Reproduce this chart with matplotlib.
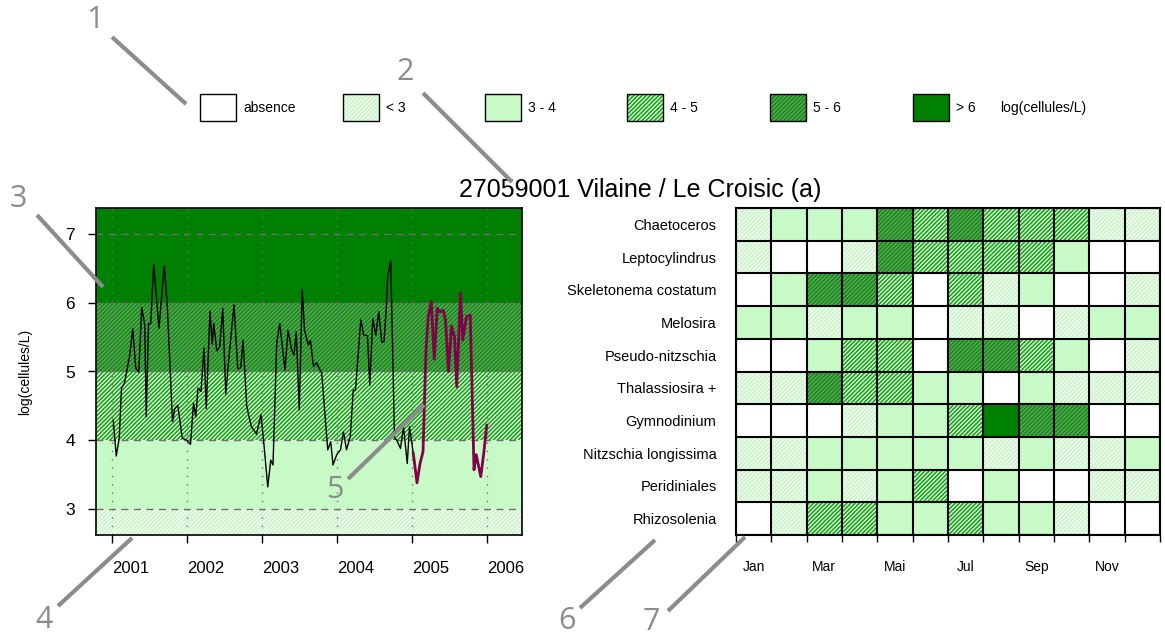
import matplotlib
matplotlib.use("Agg")
import matplotlib.pyplot as plt

plt.rcParams["font.family"] = ["Liberation Sans", "DejaVu Sans"]
plt.rcParams["hatch.linewidth"] = 1.0

# ---- time series (decimal years, log(cellules/L)) ----
years_a = [2001.02, 2001.06, 2001.10, 2001.13, 2001.17, 2001.24, 2001.28, 2001.32,
           2001.36, 2001.40, 2001.44, 2001.46, 2001.49, 2001.52, 2001.56, 2001.63,
           2001.70, 2001.74, 2001.81, 2001.84, 2001.88, 2001.94, 2002.00, 2002.05,
           2002.09, 2002.12, 2002.15, 2002.19, 2002.23, 2002.26, 2002.31, 2002.34,
           2002.36, 2002.40, 2002.44, 2002.48, 2002.52, 2002.57, 2002.63, 2002.68,
           2002.72, 2002.75, 2002.80, 2002.86, 2002.93, 2002.99, 2003.03, 2003.08,
           2003.12, 2003.15, 2003.20, 2003.24, 2003.31, 2003.35, 2003.40, 2003.43,
           2003.46, 2003.50, 2003.54, 2003.57, 2003.62, 2003.65, 2003.69, 2003.73,
           2003.80, 2003.88, 2003.92, 2003.95, 2004.00, 2004.05, 2004.09, 2004.13,
           2004.18, 2004.22, 2004.25, 2004.32, 2004.36, 2004.41, 2004.44, 2004.48,
           2004.52, 2004.56, 2004.60, 2004.63, 2004.66, 2004.68, 2004.72, 2004.77,
           2004.80, 2004.85, 2004.89, 2004.94, 2004.97, 2005.02]
values_a = [4.29, 3.77, 4.03, 4.76, 4.83, 5.24, 5.62, 5.05,
            4.99, 5.93, 5.68, 4.34, 5.69, 5.70, 6.56, 5.63,
            6.54, 5.97, 4.27, 4.46, 4.51, 4.03, 4.00, 3.94,
            4.54, 4.34, 4.76, 4.71, 5.34, 4.46, 5.88, 5.40,
            5.70, 5.30, 5.36, 5.92, 4.67, 5.29, 5.97, 5.04,
            5.05, 5.46, 4.49, 4.20, 4.09, 4.37, 3.93, 3.32,
            3.71, 3.64, 5.42, 5.70, 5.02, 5.60, 5.31, 5.24,
            5.58, 4.44, 6.19, 5.60, 5.39, 5.45, 5.07, 5.13,
            4.97, 3.86, 3.98, 3.64, 3.79, 3.86, 4.12, 3.86,
            4.05, 4.73, 4.73, 5.75, 5.53, 5.52, 4.80, 5.77,
            5.53, 5.87, 5.43, 5.43, 5.92, 6.38, 6.61, 4.03,
            4.00, 3.88, 4.20, 3.66, 4.20, 3.81]

# last year highlighted
years_b = [2005.02, 2005.07, 2005.11, 2005.15, 2005.19, 2005.22, 2005.26, 2005.30,
           2005.34, 2005.37, 2005.42, 2005.45, 2005.49, 2005.53, 2005.57, 2005.60,
           2005.65, 2005.68, 2005.73, 2005.78, 2005.83, 2005.86, 2005.92, 2005.96,
           2006.00]
values_b = [3.81, 3.38, 3.66, 3.83, 5.31, 5.80, 6.02, 5.18,
            5.92, 5.87, 5.89, 5.75, 5.00, 5.66, 5.51, 4.78,
            6.14, 5.46, 5.80, 5.82, 3.57, 3.79, 3.47, 3.81,
            4.22]

year_ticks = [2001, 2002, 2003, 2004, 2005, 2006]

# ---- monthly classes per taxon ----
# 0 absence, 1 <3, 2 3-4, 3 4-5, 4 5-6, 5 >6
taxa = ["Chaetoceros", "Leptocylindrus", "Skeletonema costatum", "Melosira",
        "Pseudo-nitzschia", "Thalassiosira +", "Gymnodinium",
        "Nitzschia longissima", "Peridiniales", "Rhizosolenia"]
classes = [
    [1, 2, 2, 2, 4, 3, 4, 3, 3, 3, 1, 1],
    [1, 0, 0, 1, 4, 3, 3, 3, 3, 2, 0, 0],
    [0, 2, 4, 4, 3, 0, 3, 1, 2, 0, 0, 1],
    [2, 2, 1, 2, 2, 0, 1, 1, 0, 1, 2, 2],
    [0, 0, 2, 3, 3, 0, 4, 4, 3, 2, 0, 1],
    [1, 1, 4, 3, 3, 2, 2, 0, 2, 1, 1, 1],
    [0, 0, 0, 1, 2, 2, 3, 5, 4, 4, 0, 0],
    [1, 1, 2, 2, 2, 2, 2, 1, 2, 1, 1, 2],
    [1, 1, 2, 1, 2, 3, 0, 2, 0, 0, 1, 1],
    [0, 1, 3, 3, 2, 2, 3, 2, 2, 1, 0, 0],
]
month_labels = ["Jan", "Mar", "Mai", "Jul", "Sep", "Nov"]

class_labels = ["absence", "< 3", "3 - 4", "4 - 5", "5 - 6", "> 6"]
band_edges = [0, 3, 4, 5, 6, 10]

# fill / hatch / hatch colour for each class
styles = [
    ("white", None, "white"),
    ("#effdef", "////////", "#c8f2c8"),
    ("#c8fac8", None, "#c8fac8"),
    ("#c8fac8", "////////", "#159515"),
    ("#4caf4c", "////////", "#1e7e1e"),
    ("#008000", None, "#008000"),
]

W, H = 1165, 639
fig = plt.figure(figsize=(W / 100, H / 100), dpi=100)


def box(x0, y0, x1, y1):
    return [x0 / W, 1 - y1 / H, (x1 - x0) / W, (y1 - y0) / H]


# ---- left: time series over class bands ----
ax1 = fig.add_axes(box(96, 208, 522, 535))
for i in range(1, 6):
    fc, hatch, hc = styles[i]
    ax1.axhspan(band_edges[i - 1], band_edges[i], facecolor=fc, hatch=hatch,
                edgecolor=hc, lw=0, zorder=0)
for v in [3, 4, 5, 6, 7]:
    ax1.axhline(v, color="#707070", ls=(0, (5, 4)), lw=1, zorder=1)
for yr in year_ticks:
    ax1.axvline(yr, color="#707070", ls=(0, (1, 5)), lw=1, zorder=1)
ax1.plot(years_a, values_a, color="black", lw=1, zorder=3)
ax1.plot(years_b, values_b, color="#80004a", lw=2, zorder=3)
ax1.set_xlim(2000.79, 2006.47)
ax1.set_ylim(2.62, 7.38)
ax1.set_yticks([3, 4, 5, 6, 7])
ax1.set_xticks(year_ticks)
ax1.set_xticklabels([])
ax1.set_xticks([y + 0.25 for y in year_ticks], minor=True)
ax1.set_xticklabels([str(y) for y in year_ticks], minor=True)
ax1.tick_params(axis="x", which="major", length=6, width=1)
ax1.tick_params(axis="x", which="minor", length=0, pad=19, labelsize=12)
ax1.tick_params(axis="y", length=6, width=1, pad=9, labelsize=12.5)
ax1.set_ylabel("log(cellules/L)", fontsize=10, labelpad=24)
for s in ax1.spines.values():
    s.set_linewidth(1.2)

# ---- right: monthly heatmap ----
ax2 = fig.add_axes(box(736, 208, 1160, 535))
for i, row in enumerate(classes):
    for j, c in enumerate(row):
        fc, hatch, hc = styles[c]
        ax2.bar(j, 1, bottom=i, width=1, align="edge", color=fc, hatch=hatch,
                edgecolor=hc, lw=0, zorder=1)
ax2.hlines(range(11), 0, 12, color="black", lw=1.5, zorder=2)
ax2.vlines(range(13), 0, 10, color="black", lw=1.5, zorder=2)
ax2.set_xlim(0, 12)
ax2.set_ylim(10, 0)
ax2.set_yticks([i + 0.5 for i in range(len(taxa))])
ax2.set_yticklabels(taxa)
ax2.tick_params(axis="y", length=0, pad=14, labelsize=10.5)
ax2.set_xticks([j + 0.5 for j in range(0, 12, 2)])
ax2.set_xticklabels(month_labels)
ax2.tick_params(axis="x", which="major", length=0, pad=18, labelsize=10)
ax2.set_xticks(range(13), minor=True)
ax2.tick_params(axis="x", which="minor", length=5, width=1)
for s in ax2.spines.values():
    s.set_linewidth(1.5)

fig.text(640 / W, 1 - 190 / H, "27059001 Vilaine / Le Croisic (a)",
         ha="center", va="center", fontsize=18)

# ---- overlay: legend and numbered callouts in pixel coordinates ----
ax0 = fig.add_axes([0, 0, 1, 1], zorder=10)
ax0.set_xlim(0, W)
ax0.set_ylim(H, 0)
ax0.axis("off")
ax0.patch.set_alpha(0)

leg_x = [200, 343, 485, 627, 770, 913]
for x, lab, (fc, hatch, hc) in zip(leg_x, class_labels, styles):
    ax0.bar(x, 27, bottom=94, width=36, align="edge", color=fc, hatch=hatch,
            edgecolor=hc, lw=0)
    ax0.bar(x, 27, bottom=94, width=36, align="edge", fill=False,
            edgecolor="black", lw=1)
    ax0.text(x + 43, 108, lab, ha="left", va="center", fontsize=10)
ax0.text(1000, 108, "log(cellules/L)", ha="left", va="center", fontsize=10)

callouts = [
    ("1", (95, 20), (112, 37), (186, 104)),
    ("2", (405, 72), (423, 93), (512, 182)),
    ("3", (18, 199), (37, 215), (103, 287)),
    ("4", (44, 620), (58, 606), (132, 538)),
    ("5", (335, 490), (348, 479), (424, 405)),
    ("6", (567, 621), (580, 608), (655, 540)),
    ("7", (651, 622), (668, 611), (745, 537)),
]
for num, (tx, ty), (x0, y0), (x1, y1) in callouts:
    ax0.plot([x0, x1], [y0, y1], color="#8c8c8c", lw=3, solid_capstyle="butt")
    ax0.text(tx, ty, num, ha="center", va="center", fontsize=22,
             color="#8c8c8c", family=["Open Sans", "DejaVu Sans"])

fig.savefig("out.png", dpi=100)
